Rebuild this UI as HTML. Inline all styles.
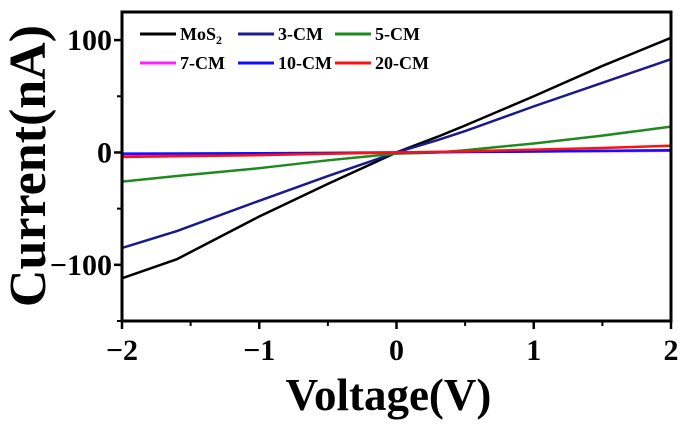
<!DOCTYPE html>
<html><head><meta charset="utf-8"><style>
body{margin:0;background:#fff;}
svg text{font-family:"Liberation Serif",serif;font-weight:bold;}
</style></head><body>
<svg id="chart" width="682" height="423" xmlns="http://www.w3.org/2000/svg"></svg>
<script>
const xs = [-2, -1.6, -1, -0.5, 0, 0.3, 0.5, 1, 1.5, 2];
const sMoS2 = [-112, -95, -57, -28, 0, 14, 24, 50, 77, 102];
const s3 = [-85, -70, -43, -21, 0, 11, 19, 41, 62, 83];
const s5 = [-26, -21, -14, -7, -1, 0, 2, 8, 15, 23];
const s7 = [-2, -1.7, -1.2, -0.7, 0, 0.3, 0.5, 0.8, 1.2, 1.5];
const s10 = [-1, -0.9, -0.7, -0.4, 0, 0.2, 0.4, 0.8, 1.4, 2];
const s20 = [-4, -3.4, -2.4, -1.2, 0, 0.5, 1, 2.5, 4, 6];
const seriesNames = ["MoS2","3-CM","5-CM","7-CM","10-CM","20-CM"];
const seriesData = [sMoS2, s3, s5, s7, s10, s20];
const colors = ["#000000","#1a1a8c","#1e8a1e","#ff20ff","#1010ff","#ff1010"];
const xTicks = [-2,-1,0,1,2];
const yTicks = [-100,0,100];

const NS="http://www.w3.org/2000/svg", svg=document.getElementById('chart');
const L=122,R=671,T=12,B=321, xMin=-2,xMax=2,yMin=-150,yMax=125;
const X=v=>L+(v-xMin)/(xMax-xMin)*(R-L);
const Y=v=>B-(v-yMin)/(yMax-yMin)*(B-T);
function el(t,a,txt){const e=document.createElementNS(NS,t);for(const k in a)e.setAttribute(k,a[k]);if(txt!=null)e.textContent=txt;svg.appendChild(e);return e;}

seriesData.forEach((d,i)=>{
  const p=el('polyline',{points:d.map((v,j)=>X(xs[j])+','+Y(v)).join(' '),fill:'none',stroke:colors[i],'stroke-width':2.5});
  
  
});
const fr=el('rect',{x:L,y:T,width:R-L,height:B-T,fill:'none',stroke:'#000','stroke-width':3});


xTicks.forEach(v=>{
  el('line',{x1:X(v),x2:X(v),y1:B,y2:B+8,stroke:'#000','stroke-width':2.5});
  const t=el('text',{x:X(v),y:B+39,'text-anchor':'middle','font-size':30},v<0?'\u2212'+(-v):String(v));
  
  
});
[-1.5,-0.5,0.5,1.5].forEach(v=>el('line',{x1:X(v),x2:X(v),y1:B,y2:B+5,stroke:'#000','stroke-width':2}));
yTicks.forEach(v=>{
  el('line',{x1:L-8,x2:L,y1:Y(v),y2:Y(v),stroke:'#000','stroke-width':2.5});
  const t=el('text',{x:L-10,y:Y(v)+10,'text-anchor':'end','font-size':30},v<0?'\u2212'+(-v):String(v));
  
  
});
[-150,-50,50].forEach(v=>el('line',{x1:L-5,x2:L,y1:Y(v),y2:Y(v),stroke:'#000','stroke-width':2}));
const xt=el('text',{x:X(0)-8,y:410,'text-anchor':'middle','font-size':45},'Voltage(V)');


const yt=el('text',{x:0,y:0,transform:'translate(45,166) rotate(-90)','text-anchor':'middle','font-size':52},'Current(nA)');


// legend
const lx=[140,238,335], ly=[34,63];
seriesNames.forEach((n,i)=>{
  const x=lx[i%3], y=ly[Math.floor(i/3)];
  el('line',{x1:x,x2:x+36,y1:y,y2:y,stroke:colors[i],'stroke-width':3});
  const t=el('text',{x:x+40,y:y+6,'font-size':18});
  if(n==='MoS2'){t.textContent='MoS';const s=document.createElementNS(NS,'tspan');s.setAttribute('font-size','12');s.setAttribute('dy','4');s.textContent='2';t.appendChild(s);}
  else t.textContent=n;
  
  
});
</script>
</body></html>
